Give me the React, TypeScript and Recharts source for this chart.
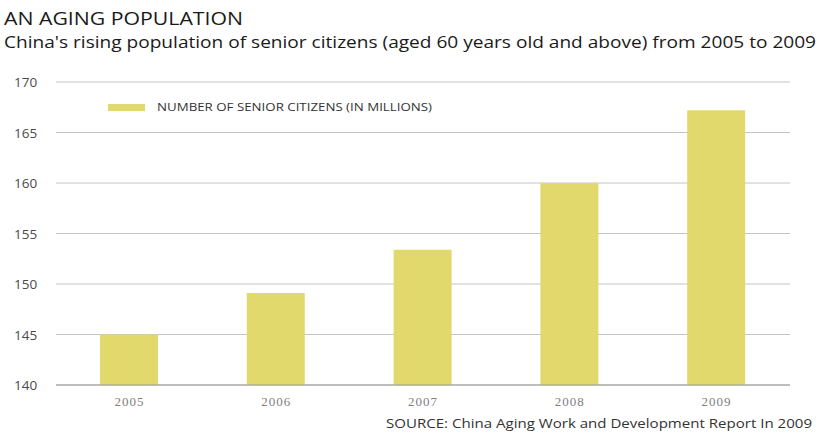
import React from "react";
import { BarChart, Bar, XAxis, YAxis, CartesianGrid } from "recharts";

const years = ["2005", "2006", "2007", "2008", "2009"];
const seniors = [145, 149.1, 153.4, 160, 167.2];
const yTicks = [140, 145, 150, 155, 160, 165, 170];

const title = "AN AGING POPULATION";
const subtitle =
  "China's rising population of senior citizens (aged 60 years old and above) from 2005 to 2009";
const legendLabel = "NUMBER OF SENIOR CITIZENS (IN MILLIONS)";
const source = "SOURCE: China Aging Work and Development Report In 2009";

const data = years.map((y, i) => ({ year: y, value: seniors[i] }));

const BAR = "#e2d96c";
const SANS = "'Open Sans', 'Noto Sans', sans-serif";

const YTick = (props: any) => {
  const { y, payload } = props;
  return (
    <text x={14} y={y} dy={5} textAnchor="start" fontSize={13.5} fontFamily={SANS} fill="#4a4a4a">
      {payload.value}
    </text>
  );
};

const XTick = (props: any) => {
  const { x, y, payload } = props;
  return (
    <text
      x={x}
      y={y}
      dy={13}
      textAnchor="middle"
      fontSize={13}
      fontFamily="'Liberation Serif', serif"
      fill="#808080"
      letterSpacing={1}
    >
      {payload.value}
    </text>
  );
};

export default function App() {
  return (
    <div
      style={{
        position: "absolute",
        left: 0,
        top: 0,
        width: 819,
        height: 437,
        background: "#fff",
        overflow: "hidden",
      }}
    >
      <BarChart
        width={819}
        height={437}
        data={data}
        margin={{ top: 82, right: 29, bottom: 0, left: 0 }}
      >
        <CartesianGrid horizontal vertical={false} stroke="#c4c4c4" />
        <XAxis
          dataKey="year"
          height={52}
          tickLine={false}
          axisLine={{ stroke: "#999" }}
          tick={<XTick />}
        />
        <YAxis
          width={56}
          domain={[140, 170]}
          ticks={yTicks}
          axisLine={false}
          tickLine={false}
          tick={<YTick />}
          allowDataOverflow
        />
        <Bar dataKey="value" fill={BAR} barSize={58} isAnimationActive={false} />
      </BarChart>
      <svg
        width={819}
        height={437}
        style={{ position: "absolute", left: 0, top: 0, pointerEvents: "none" }}
      >
        <text
          x={4}
          y={25}
          fontSize={18.5}
          fontFamily={SANS}
          fill="#1a1a1a"
          textLength={239}
          lengthAdjust="spacingAndGlyphs"
        >
          {title}
        </text>
        <text
          x={4}
          y={48}
          fontSize={17}
          fontFamily={SANS}
          fill="#1a1a1a"
          textLength={812}
          lengthAdjust="spacingAndGlyphs"
        >
          {subtitle}
        </text>
        <rect x={108} y={104} width={37} height={7} fill={BAR} />
        <text
          x={157}
          y={111}
          fontSize={11}
          fontFamily={SANS}
          fill="#333"
          textLength={275}
          lengthAdjust="spacingAndGlyphs"
        >
          {legendLabel}
        </text>
        <text
          x={386}
          y={428}
          fontSize={13.5}
          fontFamily={SANS}
          fill="#333"
          textLength={426}
          lengthAdjust="spacingAndGlyphs"
        >
          {source}
        </text>
      </svg>
    </div>
  );
}
